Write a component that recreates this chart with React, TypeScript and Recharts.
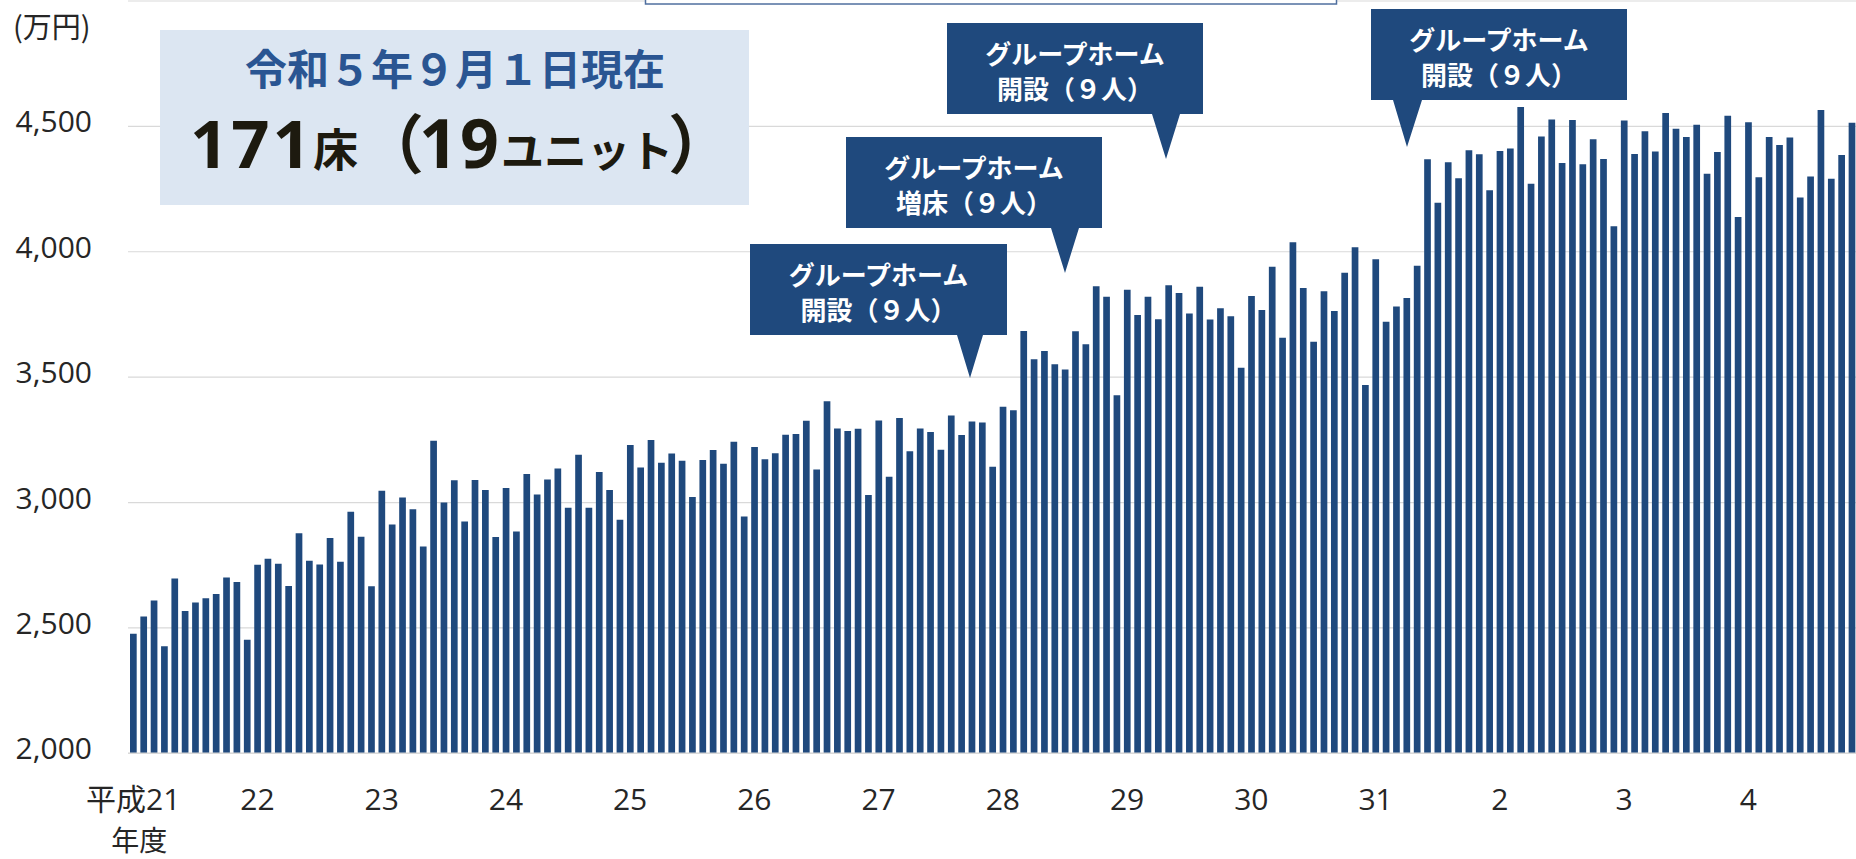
import { Bar, BarChart, CartesianGrid, XAxis, YAxis } from "recharts";

// 年度ラベル（X軸）
const yearLabels = ["平成21", "22", "23", "24", "25", "26", "27", "28", "29", "30", "31", "2", "3", "4"];

// 月別の値（万円）、4月〜3月
const fyH21 = [2477, 2546, 2609, 2427, 2697, 2567, 2601, 2618, 2635, 2701, 2683, 2453];
const fyH22 = [2752, 2776, 2756, 2667, 2878, 2768, 2753, 2859, 2764, 2963, 2864, 2666];
const fyH23 = [3047, 2912, 3020, 2973, 2825, 3246, 3000, 3089, 2924, 3090, 3050, 2863];
const fyH24 = [3058, 2884, 3114, 3032, 3092, 3136, 2979, 3191, 2979, 3122, 3050, 2931];
const fyH25 = [3229, 3140, 3249, 3159, 3196, 3167, 3022, 3170, 3209, 3155, 3242, 2944];
const fyH26 = [3221, 3173, 3197, 3270, 3273, 3326, 3132, 3404, 3295, 3285, 3294, 3030];
const fyH27 = [3327, 3103, 3337, 3205, 3295, 3281, 3210, 3347, 3269, 3323, 3319, 3143];
const fyH28 = [3382, 3368, 3684, 3571, 3604, 3551, 3531, 3683, 3631, 3862, 3821, 3428];
const fyH29 = [3849, 3748, 3821, 3731, 3866, 3836, 3754, 3860, 3730, 3775, 3743, 3537];
const fyH30 = [3824, 3768, 3940, 3657, 4038, 3856, 3641, 3843, 3764, 3916, 4018, 3469];
const fyH31 = [3970, 3721, 3782, 3816, 3944, 4369, 4195, 4357, 4293, 4405, 4389, 4245];
const fyR2 = [4402, 4412, 4577, 4271, 4460, 4527, 4354, 4525, 4349, 4449, 4370, 4102];
const fyR3 = [4523, 4390, 4481, 4400, 4553, 4491, 4458, 4507, 4311, 4398, 4542, 4139];
const fyR4 = [4516, 4297, 4458, 4426, 4456, 4216, 4300, 4565, 4291, 4386, 4514];

const yearValues = [fyH21, fyH22, fyH23, fyH24, fyH25, fyH26, fyH27, fyH28, fyH29, fyH30, fyH31, fyR2, fyR3, fyR4];

const yTicks = [2000, 2500, 3000, 3500, 4000, 4500];

const data = yearValues.flatMap((vals, y) =>
  vals.map((v, m) => ({
    key: `${yearLabels[y]}-${m < 9 ? m + 4 : m - 8}`,
    value: v,
  }))
);

const BAR = "#1f497d";
const TEXT = "#262626";
const LATIN = "'Open Sans', 'Noto Sans CJK JP', sans-serif";
const CJK = "'Noto Sans CJK JP', sans-serif";

function ValueTick({ y, payload }: any) {
  return (
    <text x={92} y={y} dy={6} textAnchor="end" fill={TEXT} fontSize={30} fontFamily={LATIN}>
      {Number(payload.value).toLocaleString("en-US")}
    </text>
  );
}

function YearTick({ x, payload }: any) {
  const label = String(payload.value).split("-")[0];
  return (
    <g>
      <text x={x} y={810} textAnchor="middle" fill={TEXT} fontSize={30} fontFamily={LATIN}>
        {label}
      </text>
      {label === "平成21" && (
        <text x={x + 6} y={851} textAnchor="middle" fill={TEXT} fontSize={28} fontFamily={CJK}>
          年度
        </text>
      )}
    </g>
  );
}

// 吹き出し（グループホーム開設・増床）
const callouts = [
  { x: 750, y: 244, w: 257, h: 91, tip: [970, 378], base: [957, 983], line2: "開設（９人）" },
  { x: 846, y: 137, w: 256, h: 91, tip: [1065, 273], base: [1051, 1079], line2: "増床（９人）" },
  { x: 947, y: 23, w: 256, h: 91, tip: [1166, 159], base: [1152, 1180], line2: "開設（９人）" },
  { x: 1371, y: 9, w: 256, h: 91, tip: [1407, 147], base: [1393, 1422], line2: "開設（９人）" },
];

function Overlay() {
  const ink = "#1d1a0f";
  return (
    <svg
      width={1856}
      height={859}
      style={{ position: "absolute", left: 0, top: 0, pointerEvents: "none" }}
    >
      <rect x={645.5} y={-20} width={691} height={24} fill="#fff" stroke="#4f6f9f" strokeWidth={1.5} />
      <text x={13} y={38} fill={TEXT} fontSize={29} fontFamily={CJK}>
        (万円)
      </text>

      <rect x={160} y={30} width={589} height={175} fill="#dce6f2" />
      <text
        x={455}
        y={66}
        textAnchor="middle"
        dominantBaseline="central"
        fill="#2a5592"
        fontSize={42}
        fontWeight={700}
        fontFamily={CJK}
      >
        令和５年９月１日現在
      </text>
      <g fill={ink} fontWeight={700}>
        <text x={190} y={168} fontSize={67} letterSpacing={3} fontFamily={LATIN}>171</text>
        <text x={313} y={167} fontSize={45} fontFamily={CJK}>床</text>
        <text x={424} y={168} fontSize={64} fontFamily={CJK} textAnchor="end">（</text>
        <text x={419} y={168} fontSize={68} letterSpacing={2} fontFamily={LATIN}>19</text>
        <text x={501} y={167} fontSize={43} fontFamily={CJK}>ユニット</text>
        <text x={668} y={168} fontSize={64} fontFamily={CJK}>）</text>
      </g>

      {callouts.map((c, i) => (
        <g key={i}>
          <path
            d={`M${c.x},${c.y}H${c.x + c.w}V${c.y + c.h}H${c.base[1]}L${c.tip[0]},${c.tip[1]}L${c.base[0]},${c.y + c.h}H${c.x}Z`}
            fill={BAR}
          />
          <text
            x={c.x + c.w / 2}
            y={c.y + 29}
            textAnchor="middle"
            dominantBaseline="central"
            fill="#fff"
            fontSize={26}
            fontWeight={700}
            fontFamily={CJK}
          >
            グループホーム
          </text>
          <text
            x={c.x + c.w / 2}
            y={c.y + 64}
            textAnchor="middle"
            dominantBaseline="central"
            fill="#fff"
            fontSize={26}
            fontWeight={700}
            fontFamily={CJK}
          >
            {c.line2}
          </text>
        </g>
      ))}
    </svg>
  );
}

export default function App() {
  return (
    <div
      style={{
        position: "absolute",
        left: 0,
        top: 0,
        width: 1856,
        height: 859,
        overflow: "hidden",
        background: "#fff",
        fontFamily: LATIN,
      }}
    >
      <BarChart
        width={1857}
        height={859}
        data={data}
        margin={{ top: 1, right: 0, bottom: 0, left: 0 }}
        barCategoryGap={0}
      >
        <CartesianGrid vertical={false} stroke="#d9d9d9" strokeWidth={1.2} />
        <YAxis
          width={128}
          domain={[2000, 5000]}
          ticks={yTicks}
          allowDataOverflow
          axisLine={false}
          tickLine={false}
          tick={<ValueTick />}
        />
        <XAxis
          dataKey="key"
          height={105.7}
          interval={11}
          axisLine={{ stroke: "#d9d9d9", strokeWidth: 1.5 }}
          tickLine={false}
          tick={<YearTick />}
        />
        <Bar dataKey="value" fill={BAR} barSize={6.7} isAnimationActive={false} />
      </BarChart>
      <Overlay />
    </div>
  );
}
